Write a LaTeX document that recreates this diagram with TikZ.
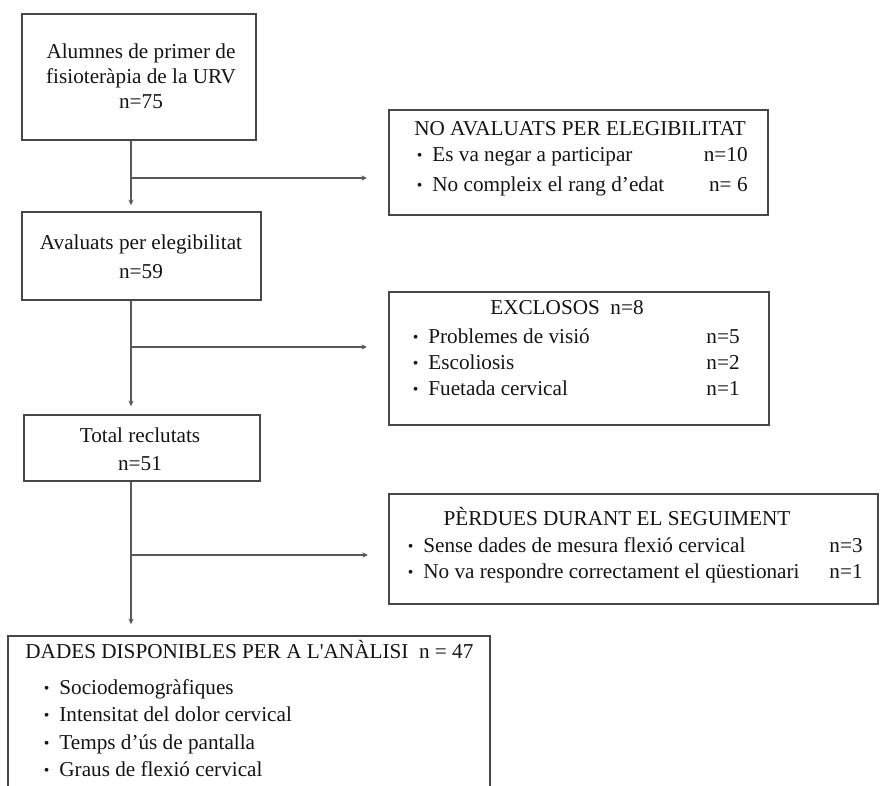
\documentclass[tikz,border=0pt]{standalone}
\usepackage{fontspec}
\setmainfont{Liberation Serif}
\usepackage{tikz}
\usetikzlibrary{arrows.meta,fit,calc}

\newcommand{\itm}{\llap{\raisebox{0.1ex}{\scalebox{0.75}{\textbullet}}\hspace{5pt}}}

\begin{document}
\begin{tikzpicture}[x=0.5pt, y=-0.5pt,
    box/.style={draw=black!72, line width=0.8pt, inner sep=0pt},
    txt/.style={inner sep=0pt, anchor=mid, yshift=-1pt, text=black!92, font=\fontsize{10.6}{12.5}\selectfont},
    item/.style={txt, anchor=mid west},
    num/.style={txt, anchor=mid east},
    flow/.style={draw=black!65, line width=0.55pt, -{Stealth[length=2.8pt,width=2.6pt]}}]
    % Frame
    \useasboundingbox (0,0) rectangle (880,786);
    \clip (0,0) rectangle (880,786);

    % Main column
    \node[box, fit={(22,14) (256,140)}] (alumnes) {};
    \node[txt] (alumnes-1) at (141,52) {Alumnes de primer de};
    \node[txt] (alumnes-2) at (141,77) {fisioteràpia de la URV};
    \node[txt] (alumnes-3) at (141,102) {n=75};

    \node[box, fit={(22,212) (261,300)}] (avaluats) {};
    \node[txt] (avaluats-1) at (141,243) {Avaluats per elegibilitat};
    \node[txt] (avaluats-2) at (141,272) {n=59};

    \node[box, fit={(24,415) (260,481)}] (reclutats) {};
    \node[txt] (reclutats-1) at (140,436) {Total reclutats};
    \node[txt] (reclutats-2) at (140,464) {n=51};

    \node[box, fit={(8,636) (490,820)}] (dades) {};
    \node[item] (dades-0) at (25,652) {DADES DISPONIBLES PER A L\textquotesingle ANÀLISI\ \ n = 47};
    \node[item] (dades-1) at (59,688) {\itm Sociodemogràfiques};
    \node[item] (dades-2) at (59,715) {\itm Intensitat del dolor cervical};
    \node[item] (dades-3) at (59,743) {\itm Temps d’ús de pantalla};
    \node[item] (dades-4) at (59,770) {\itm Graus de flexió cervical};

    % Side boxes
    \node[box, fit={(389,110) (768,215)}] (noaval) {};
    \node[txt] (noaval-0) at (580,129) {NO AVALUATS PER ELEGIBILITAT};
    \node[item] (noaval-1) at (432,155) {\itm Es va negar a participar};
    \node[num] at (748,155) {n=10};
    \node[item] (noaval-2) at (432,185) {\itm No compleix el rang d’edat};
    \node[num] at (748,185) {n=\ 6};

    \node[box, fit={(389,292) (769,425)}] (exclosos) {};
    \node[txt] (exclosos-0) at (567,308) {EXCLOSOS\ \ n=8};
    \node[item] (exclosos-1) at (428,337) {\itm Problemes de visió};
    \node[num] at (740,337) {n=5};
    \node[item] (exclosos-2) at (428,363) {\itm Escoliosis};
    \node[num] at (740,363) {n=2};
    \node[item] (exclosos-3) at (428,389) {\itm Fuetada cervical};
    \node[num] at (740,389) {n=1};

    \node[box, fit={(389,494) (878,604)}] (perdues) {};
    \node[txt] (perdues-0) at (617,519) {PÈRDUES DURANT EL SEGUIMENT};
    \node[item] (perdues-1) at (423,546) {\itm Sense dades de mesura flexió cervical};
    \node[num] at (863,546) {n=3};
    \node[item] (perdues-2) at (423,572) {\itm No va respondre correctament el qüestionari};
    \node[num] at (863,572) {n=1};

    % Connectors
    \coordinate (trunk) at (131,0);
    \coordinate (e1) at (367,178);
    \coordinate (e2) at (367,347);
    \coordinate (e3) at (368,555);
    \draw[flow, shorten >=3pt] (alumnes.south -| trunk) -- (avaluats.north -| trunk);
    \draw[flow, shorten >=4pt] (avaluats.south -| trunk) -- (reclutats.north -| trunk);
    \draw[flow, shorten >=5.5pt] (reclutats.south -| trunk) -- (dades.north -| trunk);
    \draw[flow] (trunk |- e1) -- (e1);
    \draw[flow] (trunk |- e2) -- (e2);
    \draw[flow] (trunk |- e3) -- (e3);
\end{tikzpicture}
\end{document}
